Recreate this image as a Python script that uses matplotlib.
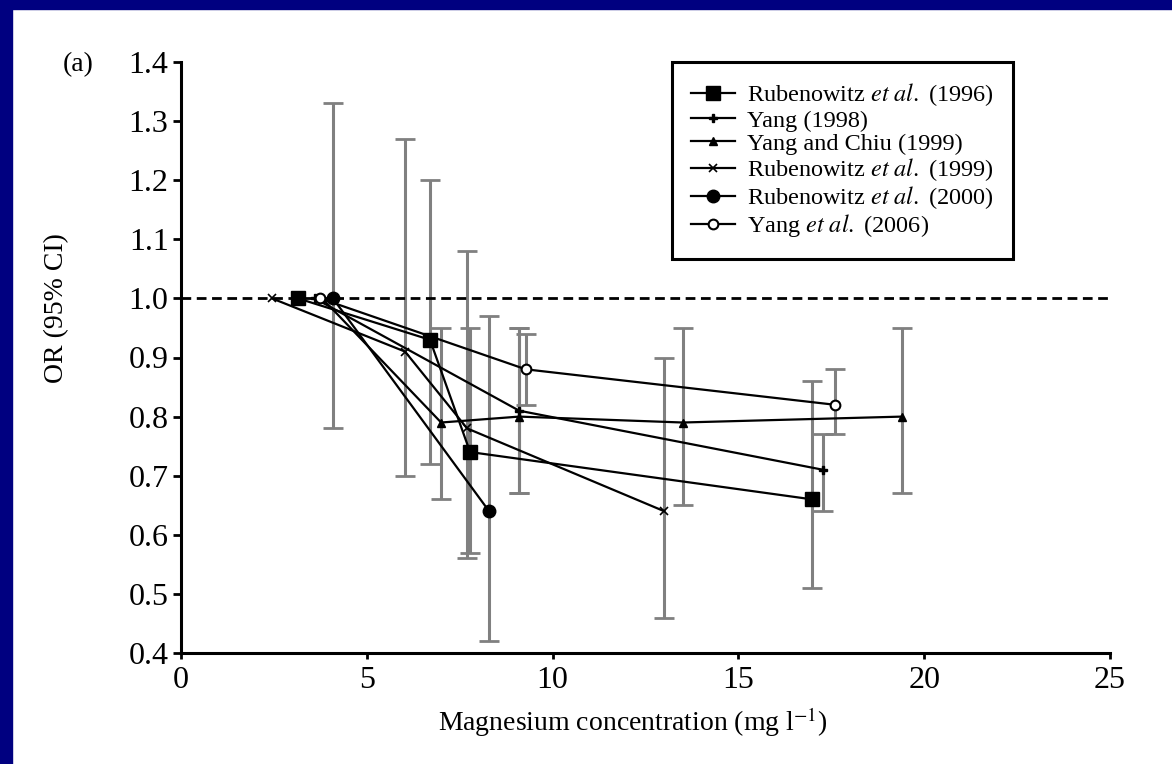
import matplotlib
matplotlib.use("Agg")
import matplotlib.pyplot as plt
from matplotlib.patches import Rectangle
from matplotlib.lines import Line2D
import numpy as np

nan = np.nan

# Data: x = Mg (mg/l), y = OR, lo/hi = 95% CI
rub96_x = [3.15, 6.7, 7.78, 16.98]
rub96_y = [1.0, 0.93, 0.74, 0.66]
rub96_lo = [nan, 0.72, 0.57, 0.51]
rub96_hi = [nan, 1.20, 0.95, 0.86]

yang98_x = [3.6, 9.1, 17.28]
yang98_y = [1.0, 0.81, 0.71]
yang98_lo = [nan, 0.67, 0.64]
yang98_hi = [nan, 0.95, 0.77]

yangchiu_x = [3.8, 7.0, 9.1, 13.5, 19.4]
yangchiu_y = [1.0, 0.79, 0.80, 0.79, 0.80]
yangchiu_lo = [nan, 0.66, 0.67, 0.65, 0.67]
yangchiu_hi = [nan, 0.95, 0.95, 0.95, 0.95]

rub99_x = [2.45, 6.03, 7.7, 13.0]
rub99_y = [1.0, 0.91, 0.78, 0.64]
rub99_lo = [nan, 0.70, 0.56, 0.46]
rub99_hi = [nan, 1.27, 1.08, 0.90]

rub00_x = [4.09, 8.29]
rub00_y = [1.0, 0.64]
rub00_lo = [0.78, 0.42]
rub00_hi = [1.33, 0.97]

yang06_x = [3.75, 9.28, 17.6]
yang06_y = [1.0, 0.88, 0.82]
yang06_lo = [nan, 0.82, 0.77]
yang06_hi = [nan, 0.94, 0.88]

plt.rcParams["font.family"] = ["Liberation Serif", "DejaVu Serif"]
plt.rcParams["mathtext.fontset"] = "stix"

W, H = 1172, 764
fig = plt.figure(figsize=(W / 100, H / 100), dpi=100)
fig.patch.set_facecolor("white")

# blue slide frame (top and left)
fig.patches.append(Rectangle((0, 1 - 9 / H), 1, 9 / H, transform=fig.transFigure,
                             color="#000080", zorder=0))
fig.patches.append(Rectangle((0, 0), 12 / W, 1, transform=fig.transFigure,
                             color="#000080", zorder=0))

ax = fig.add_axes([181 / W, 1 - 653 / H, (1110 - 181) / W, (653 - 62) / H])

series = [
    ("Rubenowitz $\\it{et\\ al.}$ (1996)", rub96_x, rub96_y, rub96_lo, rub96_hi,
     dict(marker="s", ms=10, mfc="black", mec="black")),
    ("Yang (1998)", yang98_x, yang98_y, yang98_lo, yang98_hi,
     dict(marker="P", ms=6, mfc="black", mec="black")),
    ("Yang and Chiu (1999)", yangchiu_x, yangchiu_y, yangchiu_lo, yangchiu_hi,
     dict(marker="^", ms=6, mfc="black", mec="black")),
    ("Rubenowitz $\\it{et\\ al.}$ (1999)", rub99_x, rub99_y, rub99_lo, rub99_hi,
     dict(marker="x", ms=6, mec="black", mew=1.2)),
    ("Rubenowitz $\\it{et\\ al.}$ (2000)", rub00_x, rub00_y, rub00_lo, rub00_hi,
     dict(marker="o", ms=9, mfc="black", mec="black")),
    ("Yang $\\it{et\\ al.}$ (2006)", yang06_x, yang06_y, yang06_lo, yang06_hi,
     dict(marker="o", ms=7, mfc="white", mec="black", mew=1.5)),
]

handles = []
for label, xs, ys, lo, hi, mk in series:
    xs = np.array(xs)
    ys = np.array(ys)
    lo = np.array(lo)
    hi = np.array(hi)
    ok = ~np.isnan(lo)
    ax.errorbar(xs[ok], ys[ok], yerr=[ys[ok] - lo[ok], hi[ok] - ys[ok]], fmt="none",
                ecolor="#808080", elinewidth=2.2, capsize=7, capthick=2, zorder=1)
    ax.plot(xs, ys, color="black", lw=1.6, zorder=3, **mk)
    handles.append(Line2D([], [], color="black", lw=1.6, label=label, **mk))

ax.axhline(1.0, color="black", lw=2, ls=(0, (3.5, 2)), zorder=2)

ax.set_xlim(0, 25)
ax.set_ylim(0.4, 1.4)
ax.set_xticks([0, 5, 10, 15, 20, 25])
ax.set_yticks(np.arange(0.4, 1.41, 0.1))
ax.set_yticklabels(["%.1f" % v for v in np.arange(0.4, 1.41, 0.1)])
ax.spines["top"].set_visible(False)
ax.spines["right"].set_visible(False)
ax.spines["left"].set_linewidth(2.2)
ax.spines["bottom"].set_linewidth(2.2)
ax.tick_params(axis="y", direction="out", length=6, width=2, labelsize=23, pad=3)
ax.tick_params(axis="x", direction="out", length=4, width=2, labelsize=23, pad=5)

fig.text(633 / W, 1 - 722 / H, "Magnesium concentration (mg l$^{-1}$)",
         ha="center", va="center", fontsize=20)
fig.text(57 / W, 1 - 308 / H, "OR (95% CI)", rotation=90,
         ha="center", va="center", fontsize=20)
fig.text(63 / W, 1 - 65 / H, "(a)", ha="left", va="center", fontsize=20)

leg = ax.legend(handles=handles, loc="upper left",
                bbox_to_anchor=(672 / W, 1 - 62 / H), bbox_transform=fig.transFigure,
                borderaxespad=0, fontsize=17.5, frameon=True, fancybox=False,
                framealpha=1, edgecolor="black", handlelength=1.8, handletextpad=0.5,
                labelspacing=0.05, borderpad=0.8)
leg.get_frame().set_linewidth(2.2)

fig.savefig("out.png", dpi=100)
